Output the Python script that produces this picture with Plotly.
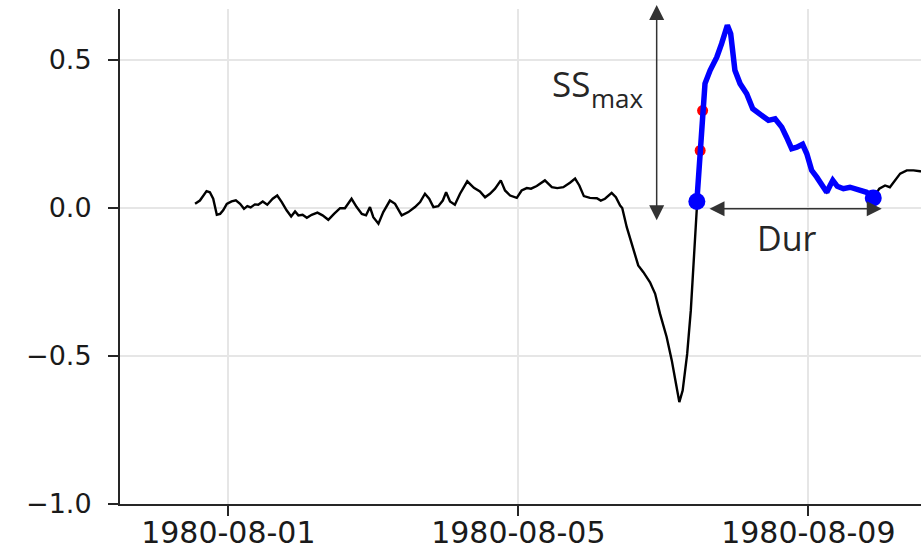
import pandas as pd
import plotly.graph_objects as go

# ---- data (hours after 1980-08-01 00:00, signal value) ----
base = pd.Timestamp("1980-08-01")

series_hours = [
    -11.0, -9.4, -7.2, -6.1, -5.0, -3.8, -2.7, -1.7, -0.5, 1.1, 2.5, 3.9, 5.2, 6.3, 7.4,
    8.8, 9.9, 11.4, 12.9, 14.7, 16.2, 17.7, 19.3, 20.8, 22.1, 23.2, 24.6, 26.0, 27.6,
    29.5, 31.2, 33.1, 35.0, 37.0, 38.6, 40.8, 42.5, 44.2, 45.6, 46.9, 48.0, 49.7, 51.3,
    53.5, 55.2, 57.4, 59.6, 61.8, 63.5, 65.1, 66.5, 67.9, 69.5, 71.0, 72.1, 73.4, 75.0,
    76.7, 79.1, 81.3, 83.3, 85.0, 86.6, 88.3, 90.2, 91.6, 93.3, 95.5, 97.1, 98.8, 100.2,
    102.1, 104.8, 107.1, 108.9, 110.9, 113.1, 114.8, 116.2, 117.7, 119.7, 122.0, 123.3,
    124.7, 126.9, 128.3, 129.7, 130.4, 131.9, 134.1, 135.7, 137.4, 139.6, 141.3, 142.9,
    145.1, 146.8, 148.2, 149.3, 150.4, 151.9, 153.1, 153.9, 154.7, 155.1,
    155.6, 156.2, 157.0, 157.8, 159.5, 161.7, 163.3, 165.2, 166.3, 167.7, 169.4, 171.6,
    173.6, 176.0, 178.8, 181.0, 183.2, 184.8, 186.5, 188.2, 190.1, 191.5, 193.1, 194.8,
    196.4, 198.1, 199.2, 200.1, 201.6, 203.6, 205.8, 207.5, 209.7, 211.3, 213.5,
    215.5, 217.4, 219.0, 220.7, 222.4, 224.6, 226.8, 229.0, 232.0,
]
series_values = [
    0.014, 0.025, 0.057, 0.053, 0.031, -0.023, -0.020, -0.008, 0.014, 0.022, 0.026, 0.014,
    -0.003, 0.006, 0.002, 0.012, 0.011, 0.022, 0.011, 0.031, 0.042, 0.020, -0.008, -0.029,
    -0.012, -0.025, -0.023, -0.033, -0.023, -0.016, -0.025, -0.040, -0.020, -0.001, -0.001,
    0.031, 0.003, -0.020, -0.025, 0.003, -0.031, -0.053, -0.014, 0.025, 0.014, -0.025,
    -0.014, 0.003, 0.020, 0.048, 0.031, 0.003, 0.006, 0.025, 0.053, 0.022, 0.011, 0.048,
    0.090, 0.068, 0.056, 0.036, 0.048, 0.065, 0.093, 0.059, 0.042, 0.034, 0.059, 0.067,
    0.065, 0.074, 0.093, 0.070, 0.067, 0.070, 0.085, 0.099, 0.076, 0.040, 0.034, 0.033,
    0.025, 0.031, 0.051, 0.036, 0.008, 0.000, -0.065, -0.144, -0.194, -0.217, -0.251,
    -0.290, -0.357, -0.436, -0.515, -0.594, -0.656, -0.617, -0.493, -0.346, -0.200,
    -0.065, 0.022,
    0.104, 0.194, 0.329, 0.420, 0.465, 0.509, 0.555, 0.617, 0.589, 0.465, 0.420, 0.386,
    0.335, 0.318, 0.296, 0.301, 0.273, 0.239, 0.200, 0.205, 0.215, 0.183, 0.127, 0.104,
    0.076, 0.053, 0.076, 0.093, 0.073, 0.065, 0.070, 0.065, 0.061, 0.053, 0.034,
    0.065, 0.076, 0.070, 0.093, 0.116, 0.127, 0.127, 0.124, 0.120,
]

# event (highlighted) window, in hours
event_start_hour = 155.1
event_end_hour = 213.5
# intermediate points marked in red
mid_hours = [156.2, 157.0]
mid_values = [0.194, 0.329]

tick_dates = ["1980-08-01", "1980-08-05", "1980-08-09"]
y_ticks = [-1.0, -0.5, 0.0, 0.5]

# ---- build ----
t = [base + pd.Timedelta(hours=h) for h in series_hours]
ev_t = [ti for ti, h in zip(t, series_hours) if event_start_hour <= h <= event_end_hour]
ev_v = [v for v, h in zip(series_values, series_hours) if event_start_hour <= h <= event_end_hour]
mid_t = [base + pd.Timedelta(hours=h) for h in mid_hours]

fig = go.Figure()
fig.add_trace(go.Scatter(x=t, y=series_values, mode="lines",
                         line=dict(color="black", width=2.4), hoverinfo="skip"))
fig.add_trace(go.Scatter(x=mid_t, y=mid_values, mode="markers",
                         marker=dict(color="#ff0000", size=11), hoverinfo="skip"))
fig.add_trace(go.Scatter(x=ev_t, y=ev_v, mode="lines",
                         line=dict(color="#0000ff", width=5.5), hoverinfo="skip"))
fig.add_trace(go.Scatter(x=[ev_t[0], ev_t[-1]], y=[ev_v[0], ev_v[-1]], mode="markers",
                         marker=dict(color="#0000ff", size=17), hoverinfo="skip"))

x_lo = base + pd.Timedelta(hours=-35.85)
x_hi = base + pd.Timedelta(hours=229.3)

axis_col = "#262626"
grid_col = "#e6e6e6"

fig.update_xaxes(range=[x_lo, x_hi], tickvals=tick_dates, tickformat="%Y-%m-%d",
                 showgrid=True, gridcolor=grid_col, gridwidth=1.5,
                 showline=True, linecolor=axis_col, linewidth=2,
                 ticks="outside", ticklen=10, tickwidth=2, tickcolor=axis_col,
                 tickfont=dict(family="DejaVu Sans", size=30, color="#1a1a1a"),
                 ticklabelstandoff=-9, zeroline=False, automargin=False)
fig.update_yaxes(range=[-1.0, 0.672], tickvals=y_ticks, tickformat=".1f",
                 showgrid=True, gridcolor=grid_col, gridwidth=1.5,
                 showline=True, linecolor=axis_col, linewidth=2,
                 ticks="outside", ticklen=10, tickwidth=2, tickcolor=axis_col,
                 tickfont=dict(family="DejaVu Sans", size=27, color="#1a1a1a"),
                 ticklabelstandoff=11, zeroline=False, automargin=False)

arrow_col = "#333333"
ss_hour = 141.8
dur_y = -0.003
fig.add_annotation(x=base + pd.Timedelta(hours=ss_hour), xref="x", y=1.008, yref="paper",
                   ax=0, ay=216.7, axref="pixel", ayref="pixel", text="",
                   showarrow=True, arrowside="end+start", arrowhead=2, startarrowhead=2,
                   arrowsize=2, startarrowsize=2, arrowwidth=1.5, arrowcolor=arrow_col)
fig.add_annotation(x=base + pd.Timedelta(hours=216.3), xref="x", y=dur_y, yref="y",
                   ax=base + pd.Timedelta(hours=158.8), axref="x", ay=dur_y, ayref="y",
                   text="", showarrow=True, arrowside="end+start", arrowhead=2,
                   startarrowhead=2, arrowsize=2, startarrowsize=2, arrowwidth=1.5,
                   arrowcolor=arrow_col)

fig.add_annotation(x=(571 - 120) / 801, y=(504 - 84) / 495, xref="paper", yref="paper",
                   text="SS", showarrow=False,
                   font=dict(family="Open Sans", size=35, color="#262626"),
                   xanchor="center", yanchor="middle")
fig.add_annotation(x=(617 - 120) / 801, y=(504 - 98) / 495, xref="paper", yref="paper",
                   text="max", showarrow=False,
                   font=dict(family="Open Sans", size=26, color="#262626"),
                   xanchor="center", yanchor="middle")
fig.add_annotation(x=(787 - 120) / 801, y=(504 - 238) / 495, xref="paper", yref="paper",
                   text="Dur", showarrow=False,
                   font=dict(family="Open Sans", size=34, color="#262626"),
                   xanchor="center", yanchor="middle")

fig.update_layout(width=921, height=551, margin=dict(l=120, r=0, t=9, b=47, pad=0),
                  paper_bgcolor="white", plot_bgcolor="white", showlegend=False)

fig.write_html("out.html")
